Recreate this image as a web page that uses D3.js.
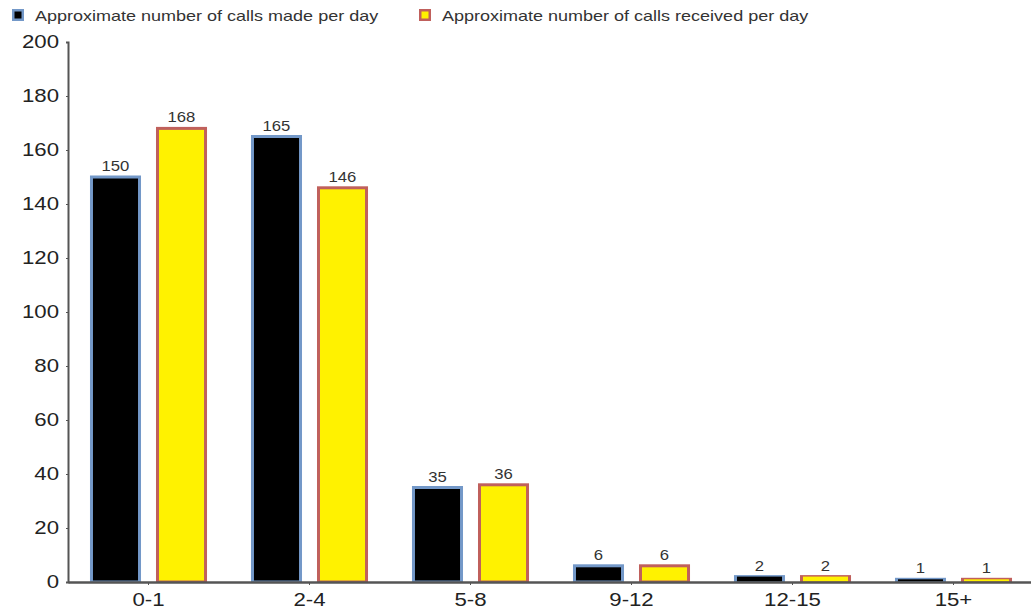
<!DOCTYPE html>
<html>
<head>
<meta charset="utf-8">
<script src="https://cdn.jsdelivr.net/npm/d3@7"></script>
<style>
  body { margin: 0; background: #fff; }
  text { font-family: "Liberation Sans", Arial, sans-serif; }
</style>
</head>
<body>
<svg id="chart" width="1031" height="611"></svg>
<script>
const categories = ["0-1", "2-4", "5-8", "9-12", "12-15", "15+"];
const seriesNames = ["Approximate number of calls made per day", "Approximate number of calls received per day"];
const callsMade = [150, 165, 35, 6, 2, 1];
const callsReceived = [168, 146, 36, 6, 2, 1];
const yTicks = [0, 20, 40, 60, 80, 100, 120, 140, 160, 180, 200];

const fills = ["#000000", "#fff200"];
const strokes = ["#7398c8", "#c0605c"];

const svg = d3.select("#chart");
const margin = {left: 68, right: -3, top: 42, bottom: 29};
const W = 1031, H = 611;

// the original text is a bit wider than its height suggests
function stretch(sel, k) {
    sel.each(function () {
        const len = this.getComputedTextLength();
        d3.select(this)
            .attr("textLength", len * k)
            .attr("lengthAdjust", "spacingAndGlyphs");
    });
}

const x = d3.scaleBand()
    .domain(categories)
    .range([margin.left, W - margin.right]);
const x1 = d3.scaleBand()
    .domain([0, 1])
    .range([0, x.bandwidth()])
    .paddingInner(0.227)
    .paddingOuter(0.333);
const y = d3.scaleLinear()
    .domain([0, 200])
    .range([H - margin.bottom, margin.top]);

// bars
const series = [callsMade, callsReceived];
const bw = 1.5;
series.forEach((vals, s) => {
    const g = svg.append("g");
    // border drawn outside the fill, then the fill on top
    g.selectAll("rect.border")
        .data(vals)
        .enter()
        .append("rect")
        .attr("class", "border")
        .attr("x", (d, i) => x(categories[i]) + x1(s))
        .attr("y", d => y(d) - bw)
        .attr("width", x1.bandwidth())
        .attr("height", d => y(0) - y(d) + bw)
        .attr("fill", strokes[s]);
    g.selectAll("rect.fill")
        .data(vals)
        .enter()
        .append("rect")
        .attr("class", "fill")
        .attr("x", (d, i) => x(categories[i]) + x1(s) + 3)
        .attr("y", d => y(d) + (d > 2 ? bw : 0))
        .attr("width", x1.bandwidth() - 6)
        .attr("height", d => Math.max(0, y(0) - y(d) - (d > 2 ? 2 * bw : 0.5)))
        .attr("fill", fills[s]);
    g.selectAll("text")
        .data(vals)
        .enter()
        .append("text")
        .attr("x", (d, i) => x(categories[i]) + x1(s) + x1.bandwidth() / 2)
        .attr("y", d => y(d) - 6)
        .attr("text-anchor", "middle")
        .attr("font-size", 14.5)
        .attr("fill", "#333")
        .text(d => d)
        .call(stretch, 1.15);
});

// y axis
const yAxis = svg.append("g")
    .attr("transform", `translate(${margin.left},0)`)
    .call(d3.axisLeft(y).tickValues(yTicks).tickSize(2).tickPadding(7));
yAxis.select(".domain").attr("stroke", "#555").attr("stroke-width", 2);
yAxis.selectAll(".tick line").attr("stroke", "#555");
yAxis.selectAll(".tick text")
    .attr("font-size", 18.5)
    .attr("fill", "#222")
    .attr("font-family", "Liberation Sans, Arial, sans-serif")
    .call(stretch, 1.2);

// x axis
const xAxis = svg.append("g")
    .attr("transform", `translate(0,${y(0)})`)
    .call(d3.axisBottom(x).tickSize(3).tickPadding(8).tickSizeOuter(0));
xAxis.select(".domain").attr("stroke", "#555").attr("stroke-width", 2.5);
xAxis.selectAll(".tick line").attr("stroke", "#555");
xAxis.selectAll(".tick text")
    .attr("font-size", 18.5)
    .attr("fill", "#222")
    .attr("font-family", "Liberation Sans, Arial, sans-serif")
    .call(stretch, 1.2);

// legend
const legendX = [12, 419];
seriesNames.forEach((name, s) => {
    const lg = svg.append("g").attr("transform", `translate(${legendX[s]},9)`);
    lg.append("rect")
        .attr("x", 0).attr("y", 0)
        .attr("width", 12).attr("height", 12)
        .attr("fill", strokes[s]);
    lg.append("rect")
        .attr("x", 2.5).attr("y", 2.5)
        .attr("width", 7).attr("height", 7)
        .attr("fill", fills[s]);
    lg.append("text")
        .attr("x", 23)
        .attr("y", 11.5)
        .attr("font-size", 15)
        .attr("fill", "#333")
        .text(name)
        .call(stretch, 1.2);
});
</script>
</body>
</html>
